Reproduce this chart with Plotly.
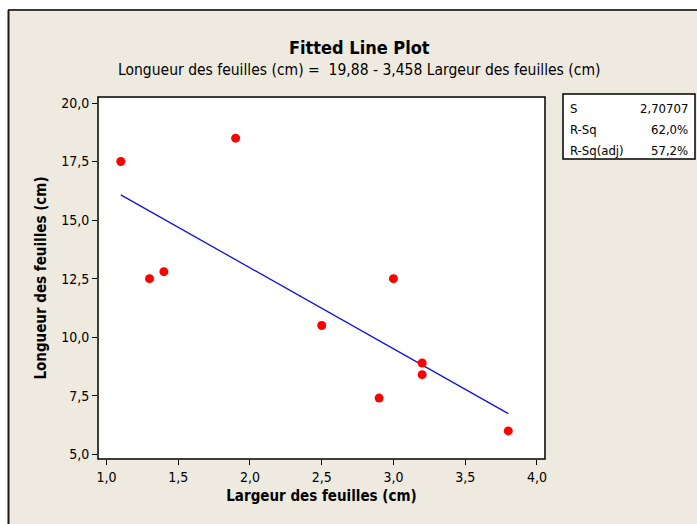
import plotly.graph_objects as go

# ---- data ----
largeur = [1.1, 1.3, 1.4, 1.9, 2.5, 2.9, 3.0, 3.2, 3.2, 3.8]
longueur = [17.5, 12.5, 12.8, 18.5, 10.5, 7.4, 12.5, 8.9, 8.4, 6.0]
intercept = 19.88
slope = -3.458
stats_labels = ["S", "R-Sq", "R-Sq(adj)"]
stats_values = ["2,70707", "62,0%", "57,2%"]
x_ticks = [1.0, 1.5, 2.0, 2.5, 3.0, 3.5, 4.0]
x_ticktext = ["1,0", "1,5", "2,0", "2,5", "3,0", "3,5", "4,0"]
y_ticks = [5.0, 7.5, 10.0, 12.5, 15.0, 17.5, 20.0]
y_ticktext = ["5,0", "7,5", "10,0", "12,5", "15,0", "17,5", "20,0"]

W, H = 697, 524
L, R, T, B = 98, 152, 97, 65
PW, PH = W - L - R, H - T - B

def px(x):
    return (x - L) / PW

def py(y):
    return (H - B - y) / PH

FONT = "DejaVu Sans Condensed, Liberation Sans Narrow, DejaVu Sans, sans-serif"
BG = "#EEEAE0"

fit_x = [min(largeur), max(largeur)]
fit_y = [intercept + slope * v for v in fit_x]

fig = go.Figure()
fig.add_trace(go.Scatter(x=fit_x, y=fit_y, mode="lines",
                         line=dict(color="#1010E0", width=1.3), showlegend=False))
fig.add_trace(go.Scatter(x=largeur, y=longueur, mode="markers",
                         marker=dict(color="#FF0000", size=9), showlegend=False))

shapes = [
    dict(type="rect", xref="paper", yref="paper", x0=px(8), x1=px(W + 5), y0=py(H + 5), y1=py(10),
         fillcolor=BG, line=dict(width=0), layer="below"),
    dict(type="line", xref="paper", yref="paper", x0=px(8), x1=px(W + 5), y0=py(10), y1=py(10),
         line=dict(color="#3A3A3A", width=2)),
    dict(type="line", xref="paper", yref="paper", x0=px(8.5), x1=px(8.5), y0=py(10), y1=py(H + 5),
         line=dict(color="#1A1A1A", width=2)),
    dict(type="rect", xref="paper", yref="paper", x0=0, x1=1, y0=0, y1=1,
         fillcolor="white", line=dict(width=0), layer="below"),
    dict(type="rect", xref="paper", yref="paper", x0=0, x1=1, y0=0, y1=1,
         fillcolor="rgba(0,0,0,0)", line=dict(color="black", width=1.5), layer="above"),
    dict(type="rect", xref="paper", yref="paper", x0=px(563), x1=px(695), y0=py(159), y1=py(94),
         fillcolor="white", line=dict(color="black", width=1.5)),
]

annotations = [
    dict(text="<b>Fitted Line Plot</b>", x=px(359), y=py(47), xref="paper", yref="paper",
         showarrow=False, font=dict(family=FONT, size=18, color="black"), xanchor="center", yanchor="middle"),
    dict(text="Longueur des feuilles (cm) =  19,88 - 3,458 Largeur des feuilles (cm)",
         x=px(359), y=py(70), xref="paper", yref="paper", showarrow=False,
         font=dict(family=FONT, size=15.5, color="black"), xanchor="center", yanchor="middle"),
]
row_y = [108, 129, 150]
for lab, val, ry in zip(stats_labels, stats_values, row_y):
    annotations.append(dict(text=lab, x=px(568), y=py(ry), xref="paper", yref="paper", showarrow=False,
                            xanchor="left", yanchor="middle", font=dict(family=FONT, size=13, color="black")))
    annotations.append(dict(text=val, x=px(690), y=py(ry), xref="paper", yref="paper", showarrow=False,
                            xanchor="right", yanchor="middle", font=dict(family=FONT, size=13, color="black")))

fig.update_layout(
    width=W, height=H,
    margin=dict(l=L, r=R, t=T, b=B),
    paper_bgcolor="white", plot_bgcolor="rgba(0,0,0,0)",
    shapes=shapes, annotations=annotations,
    font=dict(family=FONT, color="black"),
)
fig.update_xaxes(range=[0.941, 4.056], tickvals=x_ticks, ticktext=x_ticktext,
                 ticks="outside", ticklen=5, tickwidth=1, tickcolor="black",
                 showline=False, showgrid=False, zeroline=False,
                 tickfont=dict(family=FONT, size=14),
                 title=dict(text="<b>Largeur des feuilles (cm)</b>", font=dict(family=FONT, size=15), standoff=6))
fig.update_yaxes(range=[4.80, 20.256], tickvals=y_ticks, ticktext=y_ticktext,
                 ticks="outside", ticklen=5, tickwidth=1, tickcolor="black",
                 showline=False, showgrid=False, zeroline=False,
                 tickfont=dict(family=FONT, size=14),
                 title=dict(text="<b>Longueur des feuilles (cm)</b>", font=dict(family=FONT, size=15), standoff=10))

fig.write_html("out.html")
